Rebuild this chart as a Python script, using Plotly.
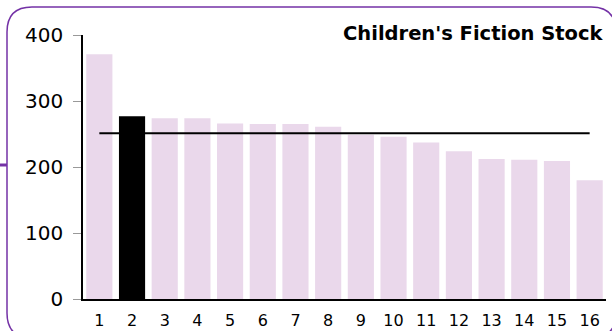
import plotly.graph_objects as go

categories = [str(i) for i in range(1, 17)]
stock = [371, 277, 274, 274, 266, 265, 265, 261, 249, 246, 237, 224, 212, 211, 209, 180]
average_stock = 251.3
highlight = "2"
y_ticks = [0, 100, 200, 300, 400]

W, H = 612, 331
L, R, T, B = 83, 6, 35, 32
pw, ph = W - L - R, H - T - B


def px(x):
    return (x - L) / pw


def py(y):
    return (H - B - y) / ph


bar_colors = ["#000000" if c == highlight else "#EAD8EB" for c in categories]

fig = go.Figure()
fig.add_trace(go.Bar(x=categories, y=stock, marker=dict(color=bar_colors, line=dict(width=0)),
                     hoverinfo="x+y"))
fig.add_trace(go.Scatter(x=categories, y=[average_stock] * len(categories), mode="lines",
                         line=dict(color="#000000", width=2), hoverinfo="y"))

# rounded frame
r = 25
x0, y0, x1, y1 = 7, 7, 616, 338
path = (f"M {px(x0)},{py(y0 + r)} Q {px(x0)},{py(y0)} {px(x0 + r)},{py(y0)} "
        f"L {px(x1 - r)},{py(y0)} Q {px(x1)},{py(y0)} {px(x1)},{py(y0 + r)} "
        f"L {px(x1)},{py(y1 - r)} Q {px(x1)},{py(y1)} {px(x1 - r)},{py(y1)} "
        f"L {px(x0 + r)},{py(y1)} Q {px(x0)},{py(y1)} {px(x0)},{py(y1 - r)} Z")
fig.add_shape(type="path", xref="paper", yref="paper", path=path,
              line=dict(color="#7432A6", width=1.5), layer="below")
fig.add_shape(type="line", xref="paper", yref="paper", x0=px(0), x1=px(7), y0=py(165), y1=py(165),
              line=dict(color="#7432A6", width=3))

fig.add_annotation(text="<b>Children's Fiction Stock</b>", xref="paper", yref="paper",
                   x=px(606), y=py(34), xanchor="right", yanchor="middle", showarrow=False,
                   font=dict(family="DejaVu Sans", size=19.5, color="#000000"))

fig.update_layout(
    width=W, height=H, margin=dict(l=L, r=R, t=T, b=B, pad=0, autoexpand=False),
    paper_bgcolor="white", plot_bgcolor="white", showlegend=False,
    bargap=0.2, font=dict(family="DejaVu Sans", color="#000000"),
)
fig.update_xaxes(type="category", showline=True, linecolor="#000000", linewidth=1.5,
                 ticks="", showgrid=False, tickfont=dict(size=16), zeroline=False,
                 ticklabelstandoff=6, automargin=False)
fig.update_yaxes(range=[0, 400], tickvals=y_ticks, showline=True, linecolor="#000000", linewidth=1.5,
                 ticks="outside", ticklen=8, tickcolor="#999999", showgrid=False,
                 tickfont=dict(size=20), zeroline=False, ticklabelstandoff=6, automargin=False)

fig.write_html("out.html", config={"displayModeBar": False},
               post_script="document.body.style.margin='0';document.body.style.overflow='hidden';")
